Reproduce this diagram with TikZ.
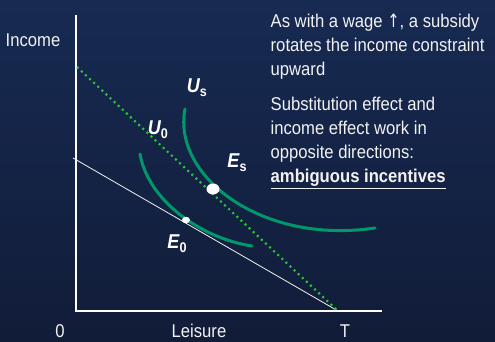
\documentclass[tikz,border=0pt]{standalone}
\usepackage{fontspec}
\setmainfont{Liberation Sans}[FakeStretch=0.9]
\newfontfamily\arrowfont{DejaVu Sans}[FakeStretch=0.8]
\usetikzlibrary{calc}
\definecolor{bgtop}{HTML}{172A52}
\definecolor{bgmid}{HTML}{1F3B72}
\definecolor{bgbot}{HTML}{111C38}
\definecolor{icgreen}{HTML}{00986A}
\definecolor{dotgreen}{HTML}{2FC435}
\definecolor{txtwhite}{HTML}{F2F2F2}
\newcommand{\curvelabel}[2]{{\bfseries\itshape #1}{\bfseries\fontsize{14}{14}\selectfont\raisebox{-0.3em}{#2}}}
\tikzset{
  axisline/.style={draw=white,line width=1.4pt},
  budget/.style={draw=txtwhite,line width=0.8pt},
  subsidyline/.style={draw=dotgreen,line width=2.2pt,dash pattern=on 2pt off 3.6pt},
  indiff/.style={draw=icgreen,line width=3pt,line cap=round},
  eqdot/.style={fill=white,draw=none},
  axislbl/.style={text=txtwhite,inner sep=0pt,font=\fontsize{18.5}{20}\selectfont},
  curvelbl/.style={text=white,inner sep=0pt,font=\fontsize{20}{20}\selectfont},
  notetext/.style={text=txtwhite,inner sep=0pt,align=left,anchor=north west,
                   font=\fontsize{18.5}{24}\selectfont},
}
\begin{document}
\begin{tikzpicture}[x=1pt,y=-1pt]
  % background
  \shade[top color=bgtop,middle color=bgmid,bottom color=bgbot] (0,0) rectangle (495,341);
  \useasboundingbox (0,0) rectangle (495,341);

  \coordinate (O) at (76,311);
  \coordinate (ytop) at (76,15);
  \coordinate (xend) at (382,311);
  \coordinate (T) at (338,311);
  \coordinate (b0) at (73,158);
  \coordinate (b1) at (77,67);

  % axes and constraints
  \draw[axisline] (ytop) -- (O) -- (xend);
  \draw[budget] (b0) -- (T);
  \draw[subsidyline] (b1) -- (T);

  % indifference curves
  \draw[indiff] (140,154) .. controls (148,200) and (200,238) .. (252,246);
  \draw[indiff] (185,109) .. controls (172,175) and (260,245) .. (375,228);

  % equilibria
  \fill[eqdot] (213,189) ellipse (6.5pt and 5.5pt);
  \fill[eqdot] (186,220) ellipse (4pt and 3.2pt);

  \node[curvelbl] (us) at (197,88) {\curvelabel{U}{s}};
  \node[curvelbl] (u0) at (158,130) {\curvelabel{U}{0}};
  \node[curvelbl] (es) at (237,163) {\curvelabel{E}{s}};
  \node[curvelbl] (e0) at (177,244) {\curvelabel{E}{0}};

  \node[axislbl] (income) at (33,40) {Income};
  \node[axislbl] (zero) at (60,331) {0};
  \node[axislbl] (leisure) at (199,331) {Leisure};
  \node[axislbl] (tlbl) at (345,331) {T};

  \node[notetext] (note1) at (270.5,14)
    {As with a wage {\arrowfont ↑}, a subsidy\\rotates the income constraint\\upward};
  \node[notetext] (note2) at (270.5,97)
    {Substitution effect and\\income effect work in\\opposite directions:\\
     \textbf{\underline{ambiguous incentives}}};
\end{tikzpicture}
\end{document}
